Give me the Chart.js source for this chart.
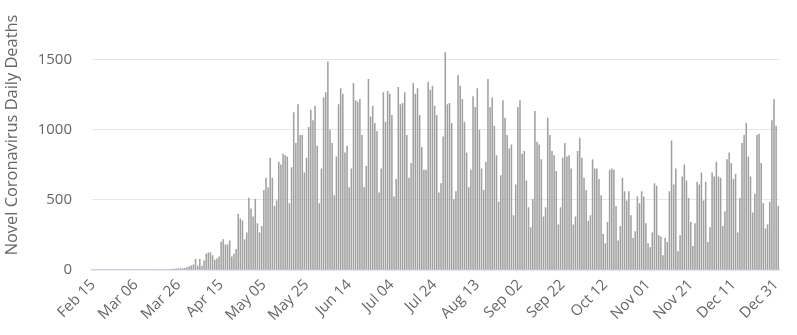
<!DOCTYPE html>
<html>
<head>
<meta charset="utf-8">
<script src="https://cdn.jsdelivr.net/npm/chart.js@4.4.1/dist/chart.umd.min.js"></script>
<style>
    html, body { margin: 0; padding: 0; background: #fff; }
    #wrap { width: 797px; height: 335px; }
</style>
</head>
<body>
<div id="wrap"><canvas id="deathsChart" width="797" height="335"></canvas></div>
<script>
/* Novel Coronavirus daily deaths — column chart */

// first day of the series, one bar per day from here
const START_DATE = [2020, 1, 15]; // Feb 15 2020 (month is 0-based)
const MONTHS = ["Jan", "Feb", "Mar", "Apr", "May", "Jun", "Jul", "Aug", "Sep", "Oct", "Nov", "Dec"];

// daily deaths (Feb 15 .. Jan 01)
const DAILY_DEATHS = [
    // Feb 15 - Mar 16
    0, 0, 0, 0, 0, 0, 0, 0, 0, 0, 0, 0, 0, 0, 0, 0, 0, 0, 0, 0, 0, 0, 0, 0, 0, 0, 0, 0, 0, 0, 0,
    // Mar 17 - Apr 01
    1, 2, 3, 4, 6, 7, 7, 9, 11, 10, 12, 12, 14, 20, 25, 32, 40,
    // Apr 02 - Apr 30
    78, 30, 78, 30, 68, 115, 125, 125, 106, 73, 82, 96, 201, 220, 182, 182, 211, 96, 115, 149,
    401, 368, 353, 220, 268, 515, 439, 382, 506,
    // May
    333, 267, 314, 571, 657, 590, 800, 657, 457, 495, 771, 752, 829, 819, 810, 476, 733, 1124,
    905, 1181, 962, 962, 695, 800, 1019, 1143, 1067, 1171, 886, 476, 724,
    // Jun
    1229, 1267, 1486, 1000, 905, 533, 810, 1181, 1295, 1257, 838, 886, 590, 724, 1333, 1210,
    1200, 1219, 962, 590, 743, 1362, 1095, 1171, 1048, 990, 552, 724, 1267, 1057,
    // Jul
    1276, 1257, 1105, 524, 648, 1305, 1181, 1190, 1267, 962, 657, 762, 1333, 1257, 1295, 1105,
    876, 714, 714, 1343, 1286, 1314, 1171, 1105, 552, 619, 952, 1552, 1181, 1190, 1048,
    // Aug
    505, 562, 1390, 1314, 1219, 1057, 838, 590, 714, 1238, 1162, 1295, 1000, 724, 571, 771,
    1362, 1162, 1229, 1029, 819, 486, 676, 1210, 1086, 962, 867, 895, 390, 610, 1162,
    // Sep
    1210, 829, 848, 638, 448, 305, 505, 1133, 914, 895, 790, 381, 448, 1086, 962, 848, 819,
    705, 324, 448, 800, 905, 810, 819, 724, 324, 381, 848, 943, 800,
    // Oct
    657, 571, 352, 390, 790, 724, 724, 648, 533, 257, 190, 343, 714, 724, 714, 457, 210, 314,
    657, 562, 495, 562, 390, 229, 276, 524, 476, 562, 524, 333, 190,
    // Nov
    162, 267, 619, 600, 248, 238, 105, 229, 200, 562, 924, 610, 724, 133, 248, 667, 752, 638,
    514, 343, 171, 333, 629, 610, 695, 495, 629, 200, 305, 695,
    // Dec
    667, 771, 667, 657, 314, 419, 790, 838, 762, 648, 686, 267, 514, 905, 962, 1048, 810, 667,
    410, 543, 962, 971, 762, 476, 295, 324, 486, 1067, 1219, 1029,
    // Jan 01
    457,
];

// x labels shown on the axis (every 20th day)
const TICK_LABELS = [
    "Feb 15", "Mar 06", "Mar 26", "Apr 15", "May 05", "May 25", "Jun 14", "Jul 04", "Jul 24",
    "Aug 13", "Sep 02", "Sep 22", "Oct 12", "Nov 01", "Nov 21", "Dec 11", "Dec 31",
];
const Y_TICKS = [0, 500, 1000, 1500];
const Y_TITLE = "Novel Coronavirus Daily Deaths";

// day labels "Mon DD"
const labels = DAILY_DEATHS.map((_, i) => {
    const d = new Date(Date.UTC(START_DATE[0], START_DATE[1], START_DATE[2] + i));
    return MONTHS[d.getUTCMonth()] + " " + String(d.getUTCDate()).padStart(2, "0");
});

const TEXT = "#666666";
const FONT = "'Open Sans', 'DejaVu Sans', sans-serif";

new Chart(document.getElementById("deathsChart").getContext("2d"), {
    type: "bar",
    data: {
        labels,
        datasets: [{
            label: "Daily Deaths",
            data: DAILY_DEATHS,
            backgroundColor: "#a0a0a0",
            borderWidth: 0,
            barPercentage: 0.8,
            categoryPercentage: 0.9,
        }],
    },
    options: {
        responsive: false,
        animation: false,
        layout: { padding: { top: 0, right: 6, bottom: 0, left: 0 } },
        plugins: {
            legend: { display: false },
            tooltip: { enabled: false },
        },
        scales: {
            x: {
                grid: { display: false, drawTicks: false },
                border: { display: true, color: "#ccd6eb", width: 1.5 },
                ticks: {
                    autoSkip: false,
                    maxRotation: 45,
                    minRotation: 45,
                    padding: 6,
                    color: TEXT,
                    font: { family: FONT, size: 15 },
                    callback: function (v) {
                        const l = this.getLabelForValue(v);
                        return TICK_LABELS.includes(l) ? l : "";
                    },
                },
                afterFit: s => { s.height = 65; },
            },
            y: {
                min: 0,
                max: 1925,
                afterBuildTicks: s => { s.ticks = Y_TICKS.map(v => ({ value: v })); },
                grid: {
                    drawTicks: false,
                    color: ctx => ctx.tick && ctx.tick.value === 0 ? "rgba(0,0,0,0)" : "#e6e6e6",
                },
                border: { display: false },
                ticks: {
                    padding: 20,
                    color: TEXT,
                    font: { family: FONT, size: 15 },
                    callback: v => String(v),
                },
                title: {
                    display: true,
                    text: Y_TITLE,
                    color: TEXT,
                    font: { family: FONT, size: 16.4 },
                    padding: { top: 2, bottom: 2 },
                },
                // no extra room above the top label, plot starts at the top edge
                afterFit: s => { s.width = 92; s.paddingTop = 0; s.paddingBottom = 0; },
            },
        },
    },
});
</script>
</body>
</html>
